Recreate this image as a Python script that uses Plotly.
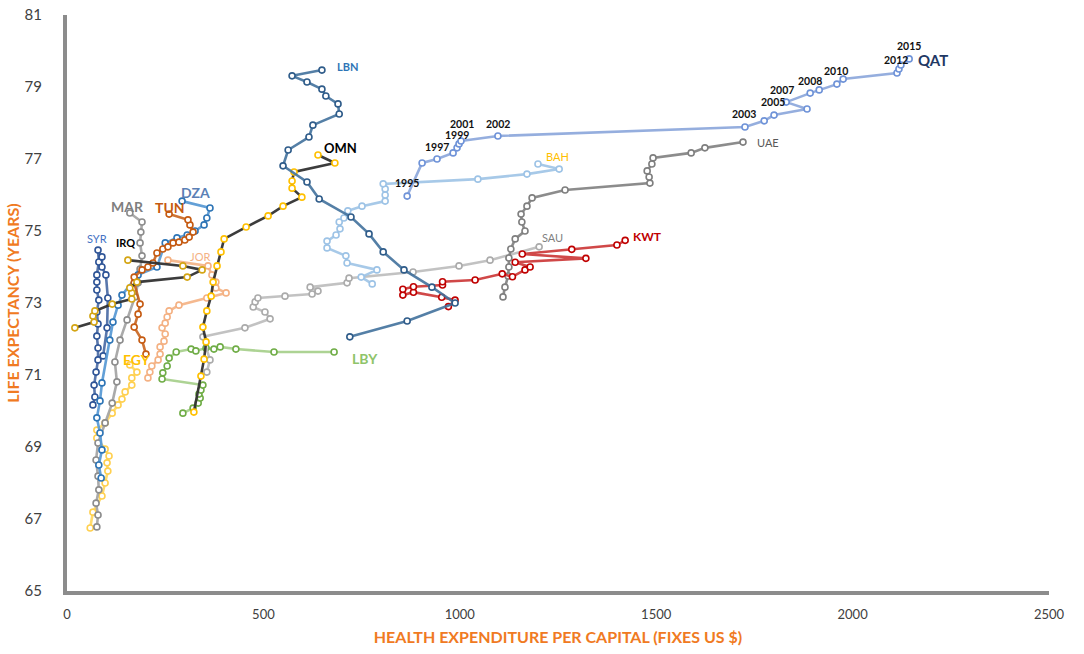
import plotly.graph_objects as go

# ---------------- data (health expenditure per capita, life expectancy) ----------------
QAT_X = [866, 904, 942, 983, 993, 998, 1003, 1097, 1726, 1775, 1800, 1884, 1831, 1892, 1915, 1960, 1976, 2113, 2118, 2123, 2144]
QAT_Y = [75.97, 76.89, 77.0, 77.17, 77.31, 77.42, 77.5, 77.64, 77.89, 78.06, 78.22, 78.39, 78.58, 78.83, 78.92, 79.08, 79.22, 79.39, 79.5, 79.61, 79.78]

UAE_X = [1110, 1115, 1123, 1125, 1125, 1130, 1141, 1166, 1158, 1156, 1171, 1184, 1268, 1484, 1482, 1477, 1489, 1492, 1589, 1624, 1721]
UAE_Y = [73.17, 73.44, 73.75, 74.0, 74.25, 74.5, 74.78, 75.0, 75.25, 75.47, 75.69, 75.92, 76.14, 76.33, 76.5, 76.67, 76.86, 77.03, 77.17, 77.31, 77.47]

KWT_X = [971, 988, 954, 882, 855, 855, 882, 956, 956, 1039, 1108, 1134, 1166, 1179, 1141, 1321, 1159, 1285, 1400, 1421]
KWT_Y = [72.9, 73.08, 73.16, 73.3, 73.22, 73.38, 73.45, 73.5, 73.59, 73.64, 73.81, 73.73, 73.92, 74.0, 74.13, 74.24, 74.36, 74.49, 74.61, 74.74]

SAU_X = [356, 364, 346, 453, 517, 504, 474, 479, 486, 555, 624, 639, 619, 713, 718, 881, 998, 1077, 1202]
SAU_Y = [71.08, 71.42, 72.06, 72.31, 72.56, 72.75, 72.89, 73.03, 73.14, 73.19, 73.25, 73.33, 73.44, 73.56, 73.69, 73.86, 74.03, 74.19, 74.56]

BAH_X = [777, 749, 789, 713, 710, 662, 662, 685, 695, 693, 705, 715, 751, 810, 810, 810, 805, 1046, 1171, 1253, 1199]
BAH_Y = [73.53, 73.72, 73.92, 74.11, 74.31, 74.53, 74.72, 74.89, 75.06, 75.25, 75.36, 75.56, 75.69, 75.83, 76.0, 76.17, 76.31, 76.44, 76.58, 76.72, 76.86]

LBN_X = [720, 866, 988, 929, 858, 805, 769, 723, 642, 611, 550, 563, 616, 626, 693, 690, 659, 649, 611, 573, 649]
LBN_Y = [72.06, 72.5, 73.0, 73.44, 73.92, 74.42, 74.92, 75.39, 75.89, 76.36, 76.81, 77.25, 77.61, 77.94, 78.25, 78.53, 78.75, 78.94, 79.14, 79.31, 79.47]

OMN_X = [323, 341, 349, 354, 346, 356, 367, 372, 382, 392, 400, 456, 512, 550, 598, 573, 573, 578, 682, 639]
OMN_Y = [69.97, 70.97, 71.44, 71.92, 72.33, 72.78, 73.19, 73.58, 74.03, 74.42, 74.78, 75.11, 75.42, 75.69, 75.94, 76.19, 76.39, 76.64, 76.89, 77.11]

LBY_X = [295, 321, 334, 339, 336, 341, 346, 242, 244, 255, 260, 278, 316, 328, 354, 374, 390, 430, 527, 680]
LBY_Y = [69.94, 70.08, 70.22, 70.36, 70.47, 70.58, 70.72, 70.89, 71.06, 71.25, 71.47, 71.64, 71.72, 71.67, 71.75, 71.72, 71.78, 71.72, 71.64, 71.64]

JOR_X = [206, 211, 216, 232, 237, 237, 247, 250, 242, 250, 255, 260, 285, 356, 405, 379, 379, 369, 359, 257]
JOR_Y = [70.92, 71.08, 71.25, 71.42, 71.58, 71.78, 71.94, 72.14, 72.31, 72.44, 72.61, 72.78, 72.94, 73.14, 73.28, 73.42, 73.58, 73.78, 74.03, 74.19]

TUN_X = [201, 191, 171, 181, 186, 171, 171, 191, 206, 219, 229, 244, 257, 270, 285, 300, 311, 321, 313, 308, 260]
TUN_Y = [71.58, 71.97, 72.33, 72.69, 72.97, 73.56, 73.72, 73.92, 74.0, 74.11, 74.39, 74.5, 74.56, 74.67, 74.69, 74.75, 74.83, 74.97, 75.17, 75.31, 75.47]

DZA_X = [87, 81, 89, 84, 76, 84, 89, 109, 117, 130, 140, 181, 229, 250, 280, 306, 326, 349, 356, 364, 293]
DZA_Y = [68.14, 68.5, 68.92, 69.39, 69.81, 70.28, 70.78, 71.97, 72.47, 72.94, 73.22, 73.78, 74.0, 74.67, 74.81, 74.89, 75.0, 75.17, 75.36, 75.64, 75.83]

MAR_X = [76, 79, 74, 81, 79, 74, 79, 97, 115, 127, 122, 135, 153, 173, 181, 186, 191, 186, 188, 191, 160]
MAR_Y = [66.78, 67.11, 67.44, 67.81, 68.19, 68.64, 69.11, 69.67, 70.22, 70.81, 71.36, 71.97, 72.53, 73.17, 73.56, 73.94, 74.31, 74.67, 74.97, 75.25, 75.5]

EGY_X = [59, 66, 89, 97, 104, 102, 107, 97, 76, 76, 97, 115, 130, 140, 148, 165, 165, 178, 160]
EGY_Y = [66.75, 67.19, 67.64, 68.0, 68.33, 68.56, 68.75, 68.94, 69.25, 69.47, 69.67, 69.94, 70.17, 70.33, 70.53, 70.72, 70.92, 71.08, 71.28]

SYR_X = [66, 71, 69, 74, 79, 79, 76, 79, 76, 81, 76, 76, 76, 81, 79, 89, 89, 99, 104, 102, 92]
SYR_Y = [70.17, 70.39, 70.72, 71.08, 71.42, 71.75, 72.08, 72.42, 72.75, 73.08, 73.36, 73.58, 73.78, 74.14, 74.47, 74.28, 74.0, 73.78, 73.14, 72.31, 71.53]

IRQ_X = [20, 69, 66, 71, 115, 165, 165, 160, 178, 306, 344, 295, 155]
IRQ_Y = [72.31, 72.47, 72.64, 72.78, 72.97, 73.11, 73.28, 73.42, 73.58, 73.72, 73.92, 74.03, 74.19]

COUNTRIES = ["LBY", "SAU", "JOR", "EGY", "MAR", "SYR", "DZA", "TUN", "IRQ", "OMN",
             "BAH", "UAE", "KWT", "LBN", "QAT"]

QAT_YEAR_LABELS = ["1995", "1997", "1999", "2001", "2002", "2003", "2005", "2007", "2008", "2010", "2012", "2015"]
QAT_YEAR_X = [866, 942, 993, 1006, 1097, 1724, 1797, 1820, 1892, 1958, 2111, 2144]
QAT_YEAR_Y = [76.33, 77.33, 77.67, 77.97, 77.97, 78.25, 78.58, 78.92, 79.17, 79.44, 79.75, 80.14]

# ---------------- styles ----------------
DATA = {
    "QAT": (QAT_X, QAT_Y), "UAE": (UAE_X, UAE_Y), "KWT": (KWT_X, KWT_Y), "SAU": (SAU_X, SAU_Y),
    "BAH": (BAH_X, BAH_Y), "LBN": (LBN_X, LBN_Y), "OMN": (OMN_X, OMN_Y), "LBY": (LBY_X, LBY_Y),
    "JOR": (JOR_X, JOR_Y), "TUN": (TUN_X, TUN_Y), "DZA": (DZA_X, DZA_Y), "MAR": (MAR_X, MAR_Y),
    "EGY": (EGY_X, EGY_Y), "SYR": (SYR_X, SYR_Y), "IRQ": (IRQ_X, IRQ_Y),
}
# (line colour, marker colour)
STYLE = {
    "QAT": ("rgba(143,170,220,0.95)", "#6F93D8"),
    "UAE": ("rgba(128,128,128,0.9)", "#7F7F7F"),
    "KWT": ("rgba(200,40,40,0.85)", "#C00000"),
    "SAU": ("rgba(191,191,191,0.95)", "#ABABAB"),
    "BAH": ("rgba(157,195,230,0.9)", "#9DC3E6"),
    "LBN": ("rgba(65,113,156,0.9)", "#2F5C8A"),
    "OMN": ("rgba(50,50,50,0.95)", "#FFC000"),
    "LBY": ("rgba(169,209,142,0.95)", "#70AD47"),
    "JOR": ("rgba(244,177,131,0.9)", "#F4B183"),
    "TUN": ("rgba(197,90,17,0.85)", "#C55A11"),
    "DZA": ("rgba(91,155,213,0.95)", "#2E75B6"),
    "MAR": ("rgba(165,165,165,0.95)", "#8C8C8C"),
    "EGY": ("rgba(255,217,102,0.95)", "#FFD050"),
    "SYR": ("rgba(47,85,151,0.8)", "#2F5597"),
    "IRQ": ("rgba(50,50,50,0.95)", "#D4A514"),
}
# label: (x, y, colour, size, bold)
LABELS = {
    "SYR": (76, 74.78, "#4472C4", 11, False),
    "IRQ": (148, 74.69, "#000000", 11, True),
    "MAR": (155, 75.67, "#7F7F7F", 14, True),
    "DZA": (326, 76.06, "#5B7FB5", 14, True),
    "TUN": (262, 75.64, "#C55A11", 14, True),
    "JOR": (338, 74.28, "#F4B183", 11, False),
    "EGY": (178, 71.42, "#FFC000", 14, True),
    "LBY": (759, 71.47, "#8FC46A", 14, True),
    "OMN": (695, 77.31, "#000000", 13, True),
    "LBN": (713, 79.56, "#2E75B6", 11, True),
    "BAH": (1248, 77.06, "#FFC000", 11, False),
    "UAE": (1785, 77.47, "#595959", 11, False),
    "SAU": (1237, 74.83, "#7F7F7F", 11, False),
    "KWT": (1479, 74.86, "#C00000", 12, True),
    "QAT": (2205, 79.75, "#1F3864", 15, True),
}

FONT = "Lato, Open Sans, sans-serif"
fig = go.Figure()
for c in COUNTRIES:
    xs, ys = DATA[c]
    lc, mc = STYLE[c]
    fig.add_trace(go.Scatter(
        x=xs, y=ys, mode="lines+markers", name=c,
        line=dict(color=lc, width=2.6),
        marker=dict(symbol="circle", size=6, color="white", line=dict(color=mc, width=1.6)),
        showlegend=False, hoverinfo="x+y+name", cliponaxis=False,
    ))

annotations = []
for c, (lx, ly, col, sz, bold) in LABELS.items():
    annotations.append(dict(x=lx, y=ly, xref="x", yref="y", text=f"<b>{c}</b>" if bold else c,
                            showarrow=False, font=dict(family=FONT, size=sz, color=col)))
for t, lx, ly in zip(QAT_YEAR_LABELS, QAT_YEAR_X, QAT_YEAR_Y):
    annotations.append(dict(x=lx, y=ly, xref="x", yref="y", text=f"<b>{t}</b>", showarrow=False,
                            font=dict(family=FONT, size=10.5, color="#111111")))

fig.update_layout(
    width=1084, height=654,
    margin=dict(l=67, r=35, t=15, b=63),
    paper_bgcolor="white", plot_bgcolor="white",
    annotations=annotations,
    font=dict(family=FONT),
    xaxis=dict(
        range=[0, 2500], tickvals=[0, 500, 1000, 1500, 2000, 2500], automargin=False,
        showgrid=False, zeroline=False, showline=True, linecolor="#8C8C8C", linewidth=4,
        ticks="", tickfont=dict(family=FONT, size=13, color="#404040"), ticklabelstandoff=8,
        ticklabeloverflow="allow",
        title=dict(text="<b>HEALTH EXPENDITURE PER CAPITAL (FIXES US $)</b>",
                   font=dict(family=FONT, size=16, color="#F07A22"), standoff=12),
    ),
    yaxis=dict(
        range=[65, 81], tickvals=[65, 67, 69, 71, 73, 75, 77, 79, 81], automargin=False,
        showgrid=False, zeroline=False, showline=True, linecolor="#8C8C8C", linewidth=4,
        ticks="", tickfont=dict(family=FONT, size=15, color="#404040"), ticklabelstandoff=18,
        ticklabeloverflow="allow",
        tickprefix="<b>", ticksuffix="</b>",
        title=dict(text="<b>LIFE EXPECTANCY (YEARS)</b>",
                   font=dict(family=FONT, size=16, color="#F07A22"), standoff=2),
    ),
)
fig.write_html("out.html", config={"displayModeBar": False},
               post_script="document.body.style.margin='0';")
